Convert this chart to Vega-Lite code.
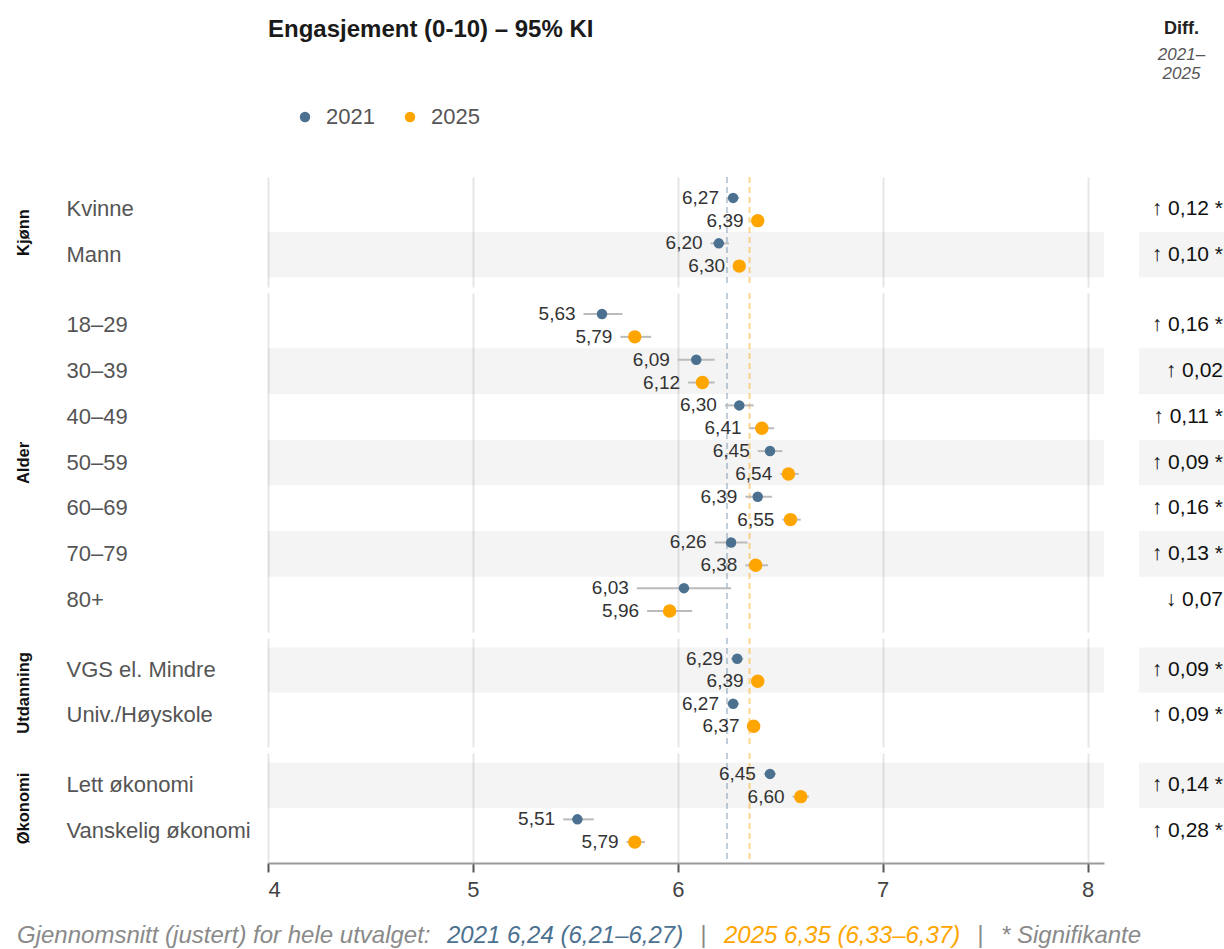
{
  "$schema": "https://vega.github.io/schema/vega-lite/v6.json",
  "background": "white",
  "padding": {"left": 13, "top": 18, "right": 0, "bottom": 0},
  "autosize": {"type": "pad"},
  "datasets": {
    "cats": [
      {"group": "Kjønn", "cat": "Kvinne", "shade": false, "diff": "↑ 0,12 *"},
      {"group": "Kjønn", "cat": "Mann", "shade": true, "diff": "↑ 0,10 *"},
      {"group": "Alder", "cat": "18–29", "shade": false, "diff": "↑ 0,16 *"},
      {"group": "Alder", "cat": "30–39", "shade": true, "diff": "↑ 0,02"},
      {"group": "Alder", "cat": "40–49", "shade": false, "diff": "↑ 0,11 *"},
      {"group": "Alder", "cat": "50–59", "shade": true, "diff": "↑ 0,09 *"},
      {"group": "Alder", "cat": "60–69", "shade": false, "diff": "↑ 0,16 *"},
      {"group": "Alder", "cat": "70–79", "shade": true, "diff": "↑ 0,13 *"},
      {"group": "Alder", "cat": "80+", "shade": false, "diff": "↓ 0,07"},
      {"group": "Utdanning", "cat": "VGS el. Mindre", "shade": true, "diff": "↑ 0,09 *"},
      {"group": "Utdanning", "cat": "Univ./Høyskole", "shade": false, "diff": "↑ 0,09 *"},
      {"group": "Økonomi", "cat": "Lett økonomi", "shade": true, "diff": "↑ 0,14 *"},
      {"group": "Økonomi", "cat": "Vanskelig økonomi", "shade": false, "diff": "↑ 0,28 *"}
    ],
    "est": [
      {"group": "Kjønn", "cat": "Kvinne", "year": "2021", "mean": 6.27, "lo": 6.24, "hi": 6.30},
      {"group": "Kjønn", "cat": "Kvinne", "year": "2025", "mean": 6.39, "lo": 6.36, "hi": 6.42},
      {"group": "Kjønn", "cat": "Mann", "year": "2021", "mean": 6.20, "lo": 6.16, "hi": 6.25},
      {"group": "Kjønn", "cat": "Mann", "year": "2025", "mean": 6.30, "lo": 6.27, "hi": 6.33},
      {"group": "Alder", "cat": "18–29", "year": "2021", "mean": 5.63, "lo": 5.54, "hi": 5.73},
      {"group": "Alder", "cat": "18–29", "year": "2025", "mean": 5.79, "lo": 5.72, "hi": 5.87},
      {"group": "Alder", "cat": "30–39", "year": "2021", "mean": 6.09, "lo": 6.00, "hi": 6.18},
      {"group": "Alder", "cat": "30–39", "year": "2025", "mean": 6.12, "lo": 6.05, "hi": 6.18},
      {"group": "Alder", "cat": "40–49", "year": "2021", "mean": 6.30, "lo": 6.23, "hi": 6.37},
      {"group": "Alder", "cat": "40–49", "year": "2025", "mean": 6.41, "lo": 6.35, "hi": 6.47},
      {"group": "Alder", "cat": "50–59", "year": "2021", "mean": 6.45, "lo": 6.39, "hi": 6.51},
      {"group": "Alder", "cat": "50–59", "year": "2025", "mean": 6.54, "lo": 6.50, "hi": 6.59},
      {"group": "Alder", "cat": "60–69", "year": "2021", "mean": 6.39, "lo": 6.33, "hi": 6.46},
      {"group": "Alder", "cat": "60–69", "year": "2025", "mean": 6.55, "lo": 6.51, "hi": 6.60},
      {"group": "Alder", "cat": "70–79", "year": "2021", "mean": 6.26, "lo": 6.18, "hi": 6.34},
      {"group": "Alder", "cat": "70–79", "year": "2025", "mean": 6.38, "lo": 6.33, "hi": 6.44},
      {"group": "Alder", "cat": "80+", "year": "2021", "mean": 6.03, "lo": 5.80, "hi": 6.26},
      {"group": "Alder", "cat": "80+", "year": "2025", "mean": 5.96, "lo": 5.85, "hi": 6.07},
      {"group": "Utdanning", "cat": "VGS el. Mindre", "year": "2021", "mean": 6.29, "lo": 6.26, "hi": 6.32},
      {"group": "Utdanning", "cat": "VGS el. Mindre", "year": "2025", "mean": 6.39, "lo": 6.36, "hi": 6.42},
      {"group": "Utdanning", "cat": "Univ./Høyskole", "year": "2021", "mean": 6.27, "lo": 6.24, "hi": 6.30},
      {"group": "Utdanning", "cat": "Univ./Høyskole", "year": "2025", "mean": 6.37, "lo": 6.34, "hi": 6.40},
      {"group": "Økonomi", "cat": "Lett økonomi", "year": "2021", "mean": 6.45, "lo": 6.42, "hi": 6.48},
      {"group": "Økonomi", "cat": "Lett økonomi", "year": "2025", "mean": 6.60, "lo": 6.56, "hi": 6.64},
      {"group": "Økonomi", "cat": "Vanskelig økonomi", "year": "2021", "mean": 5.51, "lo": 5.44, "hi": 5.59},
      {"group": "Økonomi", "cat": "Vanskelig økonomi", "year": "2025", "mean": 5.79, "lo": 5.75, "hi": 5.84}
    ],
    "means": [
      {"year": "2021", "mean": 6.24, "lo": 6.21, "hi": 6.27},
      {"year": "2025", "mean": 6.35, "lo": 6.33, "hi": 6.37}
    ],
    "footer": [
      {"seg": "Gjennomsnitt (justert) for hele utvalget:"},
      {"seg": "2021 6,24 (6,21–6,27)"},
      {"seg": "|"},
      {"seg": "2025 6,35 (6,33–6,37)"},
      {"seg": "| "},
      {"seg": "* Signifikante"}
    ]
  },
  "columns": 2,
  "bounds": "flush",
  "spacing": {"row": 6, "column": 35},
  "resolve": {
    "scale": {"yOffset": "independent", "fill": "independent"},
    "legend": {"color": "independent", "fill": "independent"}
  },
  "concat": [
    {
      "width": 836, "height": 110,
      "title": {"text": "Engasjement (0-10) – 95% KI", "anchor": "start", "frame": "group", "fontSize": 24, "fontWeight": "bold", "color": "#1a1a1a", "offset": 38},
      "layer": [
        {"data": {"name": "cats"}, "transform": [{"filter": "datum.group === 'Kjønn' && datum.shade"}],
         "mark": {"type": "rect", "color": "#000", "opacity": 0.045},
         "encoding": {"y": {"field": "cat", "type": "nominal", "scale": {"domain": ["Kvinne", "Mann"], "paddingInner": 0, "paddingOuter": 0.21},
           "axis": {"title": "Kjønn", "titleFontSize": 16.5, "titleFontWeight": "bold", "titleColor": "#111", "titlePadding": 37, "labelAlign": "left", "labelPadding": 202, "labelFontSize": 22, "labelColor": "#555", "ticks": false, "domain": false, "labelLimit": 0, "grid": false}}}},
        {"data": {"name": "means"}, "transform": [{"filter": "datum.year === '2021'"}],
         "mark": {"type": "rule", "color": "#4C7190", "opacity": 0.35, "strokeWidth": 2, "strokeDash": [6, 4]},
         "encoding": {"x": {"field": "mean", "type": "quantitative", "scale": {"domain": [4, 8.08], "nice": false, "zero": false},
           "axis": {"title": null, "labels": false, "ticks": false, "domain": false, "grid": true, "gridColor": "#e6e6e6", "gridWidth": 2, "values": [4, 5, 6, 7, 8]}}}},
        {"data": {"name": "means"}, "transform": [{"filter": "datum.year === '2025'"}],
         "mark": {"type": "rule", "color": "#FFA500", "opacity": 0.45, "strokeWidth": 2, "strokeDash": [6, 4]},
         "encoding": {"x": {"field": "mean", "type": "quantitative"}}},
        {"data": {"name": "est"}, "transform": [{"filter": "datum.group === 'Kjønn'"}],
         "layer": [
           {"mark": {"type": "rule", "color": "#bbbbbb", "strokeWidth": 2},
            "encoding": {"x": {"field": "lo", "type": "quantitative"}, "x2": {"field": "hi"}}},
           {"mark": {"type": "point", "filled": true, "opacity": 1, "shape": "circle"},
            "encoding": {"x": {"field": "mean", "type": "quantitative"},
              "color": {"field": "year", "type": "nominal", "scale": {"domain": ["2021", "2025"], "range": ["#4C7190", "#FFA500"]},
                "legend": {"orient": "top", "direction": "horizontal", "title": null, "symbolType": "circle", "symbolSize": 110, "symbolStrokeWidth": 0, "symbolOpacity": 1, "labelFontSize": 22, "labelColor": "#555", "labelOffset": 10, "columnPadding": 24, "offset": 23, "padding": 26}},
              "size": {"field": "year", "type": "nominal", "scale": {"domain": ["2021", "2025"], "range": [110, 180]}, "legend": null}}},
           {"mark": {"type": "text", "align": "right", "baseline": "middle", "dx": -8, "fontSize": 19, "color": "#333"},
            "encoding": {"x": {"field": "lo", "type": "quantitative"}, "text": {"field": "mean", "type": "quantitative", "format": ".2f"}}}
         ],
         "encoding": {"y": {"field": "cat", "type": "nominal"}, "yOffset": {"field": "year", "type": "nominal", "scale": {"domain": ["2021", "2025"]}}}}
      ]
    },
    {
      "width": 85, "height": 110,
      "title": {"text": "Diff.", "subtitle": ["2021–", "2025"], "anchor": "middle", "fontSize": 18, "fontWeight": "bold", "color": "#222", "subtitleFontSize": 17, "subtitleFontStyle": "italic", "subtitleColor": "#555", "subtitlePadding": 9, "subtitleLineHeight": 19, "offset": 95},
      "data": {"name": "cats"},
      "transform": [{"filter": "datum.group === 'Kjønn'"}],
      "encoding": {"y": {"field": "cat", "type": "nominal", "scale": {"domain": ["Kvinne", "Mann"], "paddingInner": 0, "paddingOuter": 0.21}, "axis": null}},
      "layer": [
        {"transform": [{"filter": "datum.shade"}], "mark": {"type": "rect", "color": "#000", "opacity": 0.045}},
        {"mark": {"type": "text", "align": "right", "baseline": "middle", "dx": -1, "fontSize": 21, "color": "#111"},
         "encoding": {"x": {"datum": 1, "type": "quantitative", "scale": {"domain": [0, 1]}, "axis": null}, "text": {"field": "diff"}}}
      ]
    },
    {
      "width": 836, "height": 339,
      "layer": [
        {"data": {"name": "cats"}, "transform": [{"filter": "datum.group === 'Alder' && datum.shade"}],
         "mark": {"type": "rect", "color": "#000", "opacity": 0.045},
         "encoding": {"y": {"field": "cat", "type": "nominal", "scale": {"domain": ["18–29", "30–39", "40–49", "50–59", "60–69", "70–79", "80+"], "paddingInner": 0, "paddingOuter": 0.21},
           "axis": {"title": "Alder", "titleFontSize": 16.5, "titleFontWeight": "bold", "titleColor": "#111", "titlePadding": 37, "labelAlign": "left", "labelPadding": 202, "labelFontSize": 22, "labelColor": "#555", "ticks": false, "domain": false, "labelLimit": 0, "grid": false}}}},
        {"data": {"name": "means"}, "transform": [{"filter": "datum.year === '2021'"}],
         "mark": {"type": "rule", "color": "#4C7190", "opacity": 0.35, "strokeWidth": 2, "strokeDash": [6, 4]},
         "encoding": {"x": {"field": "mean", "type": "quantitative", "scale": {"domain": [4, 8.08], "nice": false, "zero": false},
           "axis": {"title": null, "labels": false, "ticks": false, "domain": false, "grid": true, "gridColor": "#e6e6e6", "gridWidth": 2, "values": [4, 5, 6, 7, 8]}}}},
        {"data": {"name": "means"}, "transform": [{"filter": "datum.year === '2025'"}],
         "mark": {"type": "rule", "color": "#FFA500", "opacity": 0.45, "strokeWidth": 2, "strokeDash": [6, 4]},
         "encoding": {"x": {"field": "mean", "type": "quantitative"}}},
        {"data": {"name": "est"}, "transform": [{"filter": "datum.group === 'Alder'"}],
         "layer": [
           {"mark": {"type": "rule", "color": "#bbbbbb", "strokeWidth": 2},
            "encoding": {"x": {"field": "lo", "type": "quantitative"}, "x2": {"field": "hi"}}},
           {"mark": {"type": "point", "filled": true, "opacity": 1, "shape": "circle"},
            "encoding": {"x": {"field": "mean", "type": "quantitative"},
              "color": {"field": "year", "type": "nominal", "scale": {"domain": ["2021", "2025"], "range": ["#4C7190", "#FFA500"]}, "legend": null},
              "size": {"field": "year", "type": "nominal", "scale": {"domain": ["2021", "2025"], "range": [110, 180]}, "legend": null}}},
           {"mark": {"type": "text", "align": "right", "baseline": "middle", "dx": -8, "fontSize": 19, "color": "#333"},
            "encoding": {"x": {"field": "lo", "type": "quantitative"}, "text": {"field": "mean", "type": "quantitative", "format": ".2f"}}}
         ],
         "encoding": {"y": {"field": "cat", "type": "nominal"}, "yOffset": {"field": "year", "type": "nominal", "scale": {"domain": ["2021", "2025"]}}}}
      ]
    },
    {
      "width": 85, "height": 339,
      "data": {"name": "cats"},
      "transform": [{"filter": "datum.group === 'Alder'"}],
      "encoding": {"y": {"field": "cat", "type": "nominal", "scale": {"domain": ["18–29", "30–39", "40–49", "50–59", "60–69", "70–79", "80+"], "paddingInner": 0, "paddingOuter": 0.21}, "axis": null}},
      "layer": [
        {"transform": [{"filter": "datum.shade"}], "mark": {"type": "rect", "color": "#000", "opacity": 0.045}},
        {"mark": {"type": "text", "align": "right", "baseline": "middle", "dx": -1, "fontSize": 21, "color": "#111"},
         "encoding": {"x": {"datum": 1, "type": "quantitative", "scale": {"domain": [0, 1]}, "axis": null}, "text": {"field": "diff"}}}
      ]
    },
    {
      "width": 836, "height": 109,
      "layer": [
        {"data": {"name": "cats"}, "transform": [{"filter": "datum.group === 'Utdanning' && datum.shade"}],
         "mark": {"type": "rect", "color": "#000", "opacity": 0.045},
         "encoding": {"y": {"field": "cat", "type": "nominal", "scale": {"domain": ["VGS el. Mindre", "Univ./Høyskole"], "paddingInner": 0, "paddingOuter": 0.21},
           "axis": {"title": "Utdanning", "titleFontSize": 16.5, "titleFontWeight": "bold", "titleColor": "#111", "titlePadding": 37, "labelAlign": "left", "labelPadding": 202, "labelFontSize": 22, "labelColor": "#555", "ticks": false, "domain": false, "labelLimit": 0, "grid": false}}}},
        {"data": {"name": "means"}, "transform": [{"filter": "datum.year === '2021'"}],
         "mark": {"type": "rule", "color": "#4C7190", "opacity": 0.35, "strokeWidth": 2, "strokeDash": [6, 4]},
         "encoding": {"x": {"field": "mean", "type": "quantitative", "scale": {"domain": [4, 8.08], "nice": false, "zero": false},
           "axis": {"title": null, "labels": false, "ticks": false, "domain": false, "grid": true, "gridColor": "#e6e6e6", "gridWidth": 2, "values": [4, 5, 6, 7, 8]}}}},
        {"data": {"name": "means"}, "transform": [{"filter": "datum.year === '2025'"}],
         "mark": {"type": "rule", "color": "#FFA500", "opacity": 0.45, "strokeWidth": 2, "strokeDash": [6, 4]},
         "encoding": {"x": {"field": "mean", "type": "quantitative"}}},
        {"data": {"name": "est"}, "transform": [{"filter": "datum.group === 'Utdanning'"}],
         "layer": [
           {"mark": {"type": "rule", "color": "#bbbbbb", "strokeWidth": 2},
            "encoding": {"x": {"field": "lo", "type": "quantitative"}, "x2": {"field": "hi"}}},
           {"mark": {"type": "point", "filled": true, "opacity": 1, "shape": "circle"},
            "encoding": {"x": {"field": "mean", "type": "quantitative"},
              "color": {"field": "year", "type": "nominal", "scale": {"domain": ["2021", "2025"], "range": ["#4C7190", "#FFA500"]}, "legend": null},
              "size": {"field": "year", "type": "nominal", "scale": {"domain": ["2021", "2025"], "range": [110, 180]}, "legend": null}}},
           {"mark": {"type": "text", "align": "right", "baseline": "middle", "dx": -8, "fontSize": 19, "color": "#333"},
            "encoding": {"x": {"field": "lo", "type": "quantitative"}, "text": {"field": "mean", "type": "quantitative", "format": ".2f"}}}
         ],
         "encoding": {"y": {"field": "cat", "type": "nominal"}, "yOffset": {"field": "year", "type": "nominal", "scale": {"domain": ["2021", "2025"]}}}}
      ]
    },
    {
      "width": 85, "height": 109,
      "data": {"name": "cats"},
      "transform": [{"filter": "datum.group === 'Utdanning'"}],
      "encoding": {"y": {"field": "cat", "type": "nominal", "scale": {"domain": ["VGS el. Mindre", "Univ./Høyskole"], "paddingInner": 0, "paddingOuter": 0.21}, "axis": null}},
      "layer": [
        {"transform": [{"filter": "datum.shade"}], "mark": {"type": "rect", "color": "#000", "opacity": 0.045}},
        {"mark": {"type": "text", "align": "right", "baseline": "middle", "dx": -1, "fontSize": 21, "color": "#111"},
         "encoding": {"x": {"datum": 1, "type": "quantitative", "scale": {"domain": [0, 1]}, "axis": null}, "text": {"field": "diff"}}}
      ]
    },
    {
      "width": 836, "height": 110,
      "layer": [
        {"data": {"name": "cats"}, "transform": [{"filter": "datum.group === 'Økonomi' && datum.shade"}],
         "mark": {"type": "rect", "color": "#000", "opacity": 0.045},
         "encoding": {"y": {"field": "cat", "type": "nominal", "scale": {"domain": ["Lett økonomi", "Vanskelig økonomi"], "paddingInner": 0, "paddingOuter": 0.21},
           "axis": {"title": "Økonomi", "titleFontSize": 16.5, "titleFontWeight": "bold", "titleColor": "#111", "titlePadding": 37, "labelAlign": "left", "labelPadding": 202, "labelFontSize": 22, "labelColor": "#555", "ticks": false, "domain": false, "labelLimit": 0, "grid": false}}}},
        {"data": {"name": "means"}, "transform": [{"filter": "datum.year === '2021'"}],
         "mark": {"type": "rule", "color": "#4C7190", "opacity": 0.35, "strokeWidth": 2, "strokeDash": [6, 4]},
         "encoding": {"x": {"field": "mean", "type": "quantitative", "scale": {"domain": [4, 8.08], "nice": false, "zero": false},
           "axis": {"title": null, "labels": true, "ticks": true, "domain": true, "domainColor": "#9a9a9a", "domainWidth": 2, "tickColor": "#555", "tickWidth": 2, "tickSize": 9, "labelFontSize": 22, "labelColor": "#444", "labelPadding": 7, "grid": true, "gridColor": "#e6e6e6", "gridWidth": 2, "values": [4, 5, 6, 7, 8], "format": "d"}}}},
        {"data": {"name": "means"}, "transform": [{"filter": "datum.year === '2025'"}],
         "mark": {"type": "rule", "color": "#FFA500", "opacity": 0.45, "strokeWidth": 2, "strokeDash": [6, 4]},
         "encoding": {"x": {"field": "mean", "type": "quantitative"}}},
        {"data": {"name": "est"}, "transform": [{"filter": "datum.group === 'Økonomi'"}],
         "layer": [
           {"mark": {"type": "rule", "color": "#bbbbbb", "strokeWidth": 2},
            "encoding": {"x": {"field": "lo", "type": "quantitative"}, "x2": {"field": "hi"}}},
           {"mark": {"type": "point", "filled": true, "opacity": 1, "shape": "circle"},
            "encoding": {"x": {"field": "mean", "type": "quantitative"},
              "color": {"field": "year", "type": "nominal", "scale": {"domain": ["2021", "2025"], "range": ["#4C7190", "#FFA500"]}, "legend": null},
              "size": {"field": "year", "type": "nominal", "scale": {"domain": ["2021", "2025"], "range": [110, 180]}, "legend": null}}},
           {"mark": {"type": "text", "align": "right", "baseline": "middle", "dx": -8, "fontSize": 19, "color": "#333"},
            "encoding": {"x": {"field": "lo", "type": "quantitative"}, "text": {"field": "mean", "type": "quantitative", "format": ".2f"}}}
         ],
         "encoding": {"y": {"field": "cat", "type": "nominal"}, "yOffset": {"field": "year", "type": "nominal", "scale": {"domain": ["2021", "2025"]}}}},
        {"data": {"name": "footer"},
         "mark": {"type": "point", "filled": true, "opacity": 0, "size": 0},
         "encoding": {"fill": {"field": "seg", "type": "nominal",
           "scale": {"domain": ["Gjennomsnitt (justert) for hele utvalget:", "2021 6,24 (6,21–6,27)", "|", "2025 6,35 (6,33–6,37)", "| ", "* Signifikante"], "range": ["#8a8a8a", "#4C7190", "#999999", "#FFA500", "#999999", "#8a8a8a"]},
           "legend": {"orient": "none", "legendX": -255, "legendY": 171, "direction": "horizontal", "title": null, "symbolSize": 0, "symbolStrokeWidth": 0, "symbolOpacity": 0, "labelOffset": -20, "columnPadding": 12, "labelFontSize": 24, "labelFontStyle": "italic", "labelLimit": 0,
             "encode": {"labels": {"update": {"fill": [{"test": "indexof(datum.label, '2021') === 0", "value": "#4C7190"}, {"test": "indexof(datum.label, '2025') === 0", "value": "#FFA500"}, {"value": "#8a8a8a"}]}}}}}}}
      ]
    },
    {
      "width": 85, "height": 110,
      "data": {"name": "cats"},
      "transform": [{"filter": "datum.group === 'Økonomi'"}],
      "encoding": {"y": {"field": "cat", "type": "nominal", "scale": {"domain": ["Lett økonomi", "Vanskelig økonomi"], "paddingInner": 0, "paddingOuter": 0.21}, "axis": null}},
      "layer": [
        {"transform": [{"filter": "datum.shade"}], "mark": {"type": "rect", "color": "#000", "opacity": 0.045}},
        {"mark": {"type": "text", "align": "right", "baseline": "middle", "dx": -1, "fontSize": 21, "color": "#111"},
         "encoding": {"x": {"datum": 1, "type": "quantitative", "scale": {"domain": [0, 1]}, "axis": null}, "text": {"field": "diff"}}}
      ]
    }
  ],
  "config": {
    "font": "Liberation Sans",
    "view": {"stroke": null},
    "locale": {"number": {"decimal": ",", "thousands": " ", "grouping": [3], "currency": ["", " kr"]}}
  }
}
